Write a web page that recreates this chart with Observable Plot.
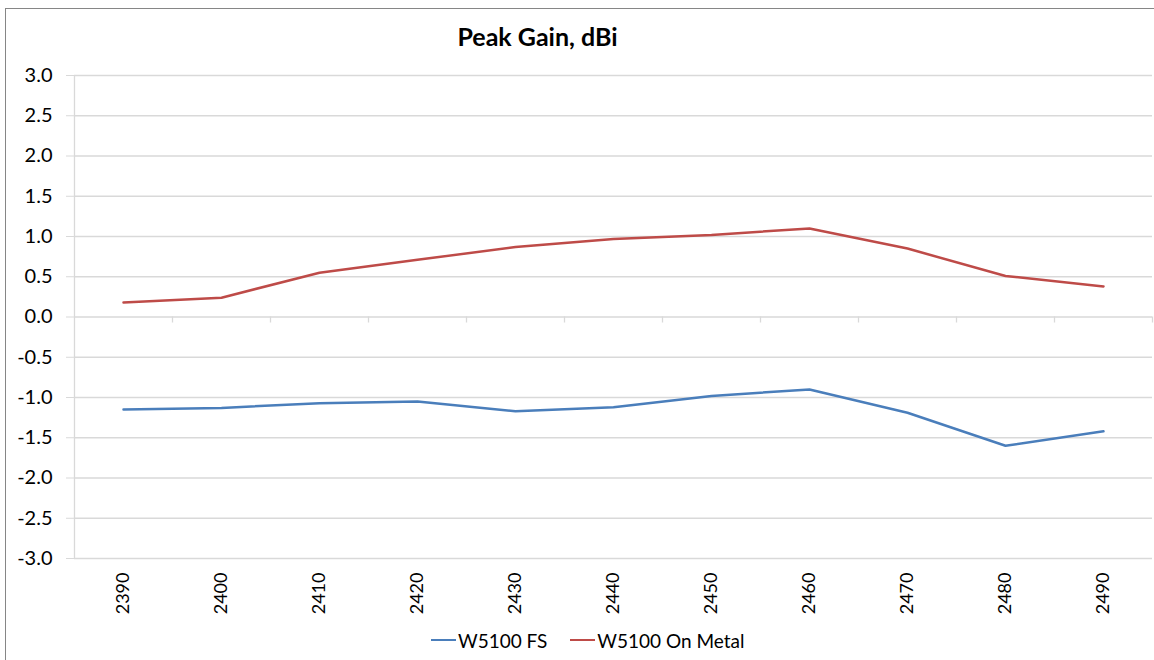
<!DOCTYPE html>
<html>
<head>
<meta charset="utf-8">
<script src="https://cdn.jsdelivr.net/npm/d3@7"></script>
<script src="https://cdn.jsdelivr.net/npm/@observablehq/plot@0.6"></script>
<style>
  html, body { margin: 0; padding: 0; background: #fff; }
  #wrap { position: relative; width: 1154px; height: 660px; overflow: hidden; font-family: Lato, "Noto Sans", sans-serif; color: #000; }
  #border { position: absolute; left: 5px; top: 8px; width: 1170px; height: 680px; border: 1px solid #868686; box-sizing: border-box; }
  #chart { position: absolute; left: 0; top: 0; }
  #title { position: absolute; left: 0; width: 1075px; top: 21px; text-align: center; font-weight: bold; font-size: 25px; }
  #legend { position: absolute; left: 431px; top: 628px; height: 24px; display: flex; align-items: center; font-size: 19px; }
  .sw { width: 25px; height: 2.5px; margin-right: 2px; }
</style>
</head>
<body>
<div id="wrap">
  <div id="chart"></div>
  <div id="border"></div>
  <div id="title">Peak Gain, dBi</div>
  <div id="legend"></div>
</div>
<script>
const freqs = [2390, 2400, 2410, 2420, 2430, 2440, 2450, 2460, 2470, 2480, 2490];
const fsGain = [-1.15, -1.13, -1.07, -1.05, -1.17, -1.12, -0.98, -0.90, -1.19, -1.60, -1.42];
const metalGain = [0.18, 0.24, 0.55, 0.71, 0.87, 0.97, 1.02, 1.10, 0.85, 0.51, 0.38];
const seriesNames = ["W5100 FS", "W5100 On Metal"];
const seriesColors = ["#4a7ebb", "#be4b48"];
const yTicks = [-3.0, -2.5, -2.0, -1.5, -1.0, -0.5, 0.0, 0.5, 1.0, 1.5, 2.0, 2.5, 3.0];

const data = [
  ...freqs.map((f, i) => ({freq: f, gain: fsGain[i], series: seriesNames[0]})),
  ...freqs.map((f, i) => ({freq: f, gain: metalGain[i], series: seriesNames[1]}))
];
const half = (freqs[1] - freqs[0]) / 2;
const xMin = freqs[0] - half, xMax = freqs[freqs.length - 1] + half;
const boundaries = freqs.map(f => f + half);
const grid = "#d9d9d9";

const chart = Plot.plot({
  width: 1154,
  height: 660,
  marginLeft: 74,
  marginRight: 2,
  marginTop: 75,
  marginBottom: 102,
  style: {fontFamily: "Lato, 'Noto Sans', sans-serif", fontSize: "18px", color: "#000", background: "transparent"},
  x: {type: "linear", domain: [xMin, xMax]},
  y: {domain: [yTicks[0], yTicks[yTicks.length - 1]]},
  color: {domain: seriesNames, range: seriesColors},
  marks: [
    Plot.ruleY(yTicks, {stroke: grid, strokeWidth: 1.3}),
    Plot.ruleX([xMin], {stroke: grid, strokeWidth: 1.3}),
    Plot.ruleX(boundaries, {x: d => d, y1: 0, y2: 0, insetBottom: -6, stroke: grid, strokeWidth: 1.3}),
    Plot.axisY({ticks: yTicks, tickSize: 8, tickPadding: 14, tickFormat: d => d.toFixed(1), stroke: grid, label: null, fontSize: 20}),
    Plot.axisX({ticks: freqs, tickSize: 0, tickPadding: 14, tickRotate: -90, tickFormat: d => String(d), label: null, fontSize: 18}),
    Plot.line(data, {x: "freq", y: "gain", z: "series", stroke: "series", strokeWidth: 2.5, strokeLinejoin: "round"})
  ]
});
document.getElementById("chart").appendChild(chart);

const legend = document.getElementById("legend");
seriesNames.forEach((name, i) => {
  const sw = document.createElement("div");
  sw.className = "sw";
  sw.style.background = seriesColors[i];
  const t = document.createElement("span");
  t.textContent = name;
  if (i > 0) sw.style.marginLeft = "23px";
  legend.appendChild(sw);
  legend.appendChild(t);
});
</script>
</body>
</html>
